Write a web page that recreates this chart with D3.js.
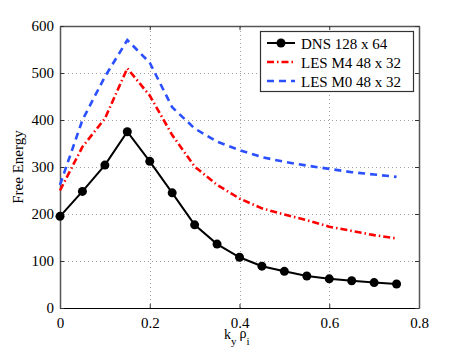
<!DOCTYPE html>
<html><head><meta charset="utf-8">
<script src="https://cdn.jsdelivr.net/npm/d3@7"></script>
<style>body{margin:0;background:#fff}svg{display:block}text{font-family:"Liberation Serif","Times New Roman",serif;fill:#000}</style>
</head><body>
<script>
const kValues = [0,0.05,0.1,0.15,0.2,0.25,0.3,0.35,0.4,0.45,0.5,0.55,0.6,0.65,0.7,0.75];
const dnsValues = [195,248,304,375,312,245,177,136,108,89,78,68,62,58,54,51];
const lesM4Values = [250,343,403,510,452,368,301,262,233,212,199,187,173,164,155,148];
const lesM0Values = [262,400,492,570,522,427,382,354,336,321,311,303,296,289,284,279];
const xTicks = [0,0.2,0.4,0.6,0.8];
const yTicks = [0,100,200,300,400,500,600];
const seriesNames = ["DNS 128 x 64","LES M4 48 x 32","LES M0 48 x 32"];

const SERIF='"Liberation Serif","Times New Roman",serif';
const W=463,H=349;
const svg=d3.select("body").append("svg").attr("width",W).attr("height",H)
  .attr("font-family",SERIF);
const x=d3.scaleLinear().domain([0,0.8]).range([60,419]);
const y=d3.scaleLinear().domain([0,600]).range([308,26]);

// grid
const grid=svg.append("g").attr("stroke","#a0a0a0").attr("stroke-width",1).attr("stroke-dasharray","1,3");
grid.selectAll(".gx").data(xTicks.slice(1,-1)).join("line")
 .attr("x1",d=>Math.round(x(d))+0.5).attr("x2",d=>Math.round(x(d))+0.5).attr("y1",y(0)).attr("y2",y(600));
grid.selectAll(".gy").data(yTicks.slice(1,-1)).join("line")
 .attr("y1",d=>Math.round(y(d))+0.5).attr("y2",d=>Math.round(y(d))+0.5).attr("x1",x(0)).attr("x2",x(0.8));

// axes via d3
const fmtX=d=>d===0?"0":String(d);
const xAxis=svg.append("g").attr("transform",`translate(0,${y(0)})`)
 .call(d3.axisBottom(x).tickValues(xTicks).tickFormat(fmtX).tickSizeInner(-4).tickSizeOuter(0).tickPadding(9));
const xAxisTop=svg.append("g").attr("transform",`translate(0,${y(600)})`)
 .call(d3.axisTop(x).tickValues(xTicks).tickFormat("").tickSizeInner(-4).tickSizeOuter(0));
const yAxis=svg.append("g").attr("transform",`translate(${x(0)},0)`)
 .call(d3.axisLeft(y).tickValues(yTicks).tickSizeInner(-4).tickSizeOuter(0).tickPadding(6));
const yAxisR=svg.append("g").attr("transform",`translate(${x(0.8)},0)`)
 .call(d3.axisRight(y).tickValues(yTicks).tickFormat("").tickSizeInner(-4).tickSizeOuter(0));
[xAxis,xAxisTop,yAxis,yAxisR].forEach(g=>{
  g.attr("font-family",SERIF).attr("font-size",15);
  g.selectAll("text").attr("font-family",SERIF).style("font-family",SERIF).style("font-size","15px").attr("fill","#000");
  g.selectAll("line").attr("stroke","#333");
});
xAxis.select(".domain").attr("stroke","#000").attr("stroke-width",1.2);
xAxisTop.select(".domain").attr("stroke","#555").attr("stroke-width",1.5);
yAxis.select(".domain").attr("stroke","#555").attr("stroke-width",1.5);
yAxisR.select(".domain").attr("stroke","#555").attr("stroke-width",1.5);

const line=d3.line().x((d,i)=>x(kValues[i])).y(d=>y(d));
svg.append("path").datum(lesM0Values).attr("d",line).attr("fill","none")
 .attr("stroke","#2b50ff").attr("stroke-width",2.6).attr("stroke-dasharray","7,5");
svg.append("path").datum(lesM4Values).attr("d",line).attr("fill","none")
 .attr("stroke","#ff0000").attr("stroke-width",2.6).attr("stroke-dasharray","7,3,1.5,3");
svg.append("path").datum(dnsValues).attr("d",line).attr("fill","none")
 .attr("stroke","#000").attr("stroke-width",2);
svg.selectAll(".mk").data(dnsValues).join("circle")
 .attr("cx",(d,i)=>x(kValues[i])).attr("cy",d=>y(d)).attr("r",4.5).attr("fill","#000");

// legend
const lg=svg.append("g");
lg.append("rect").attr("x",260.5).attr("y",31.5).attr("width",153).attr("height",60)
 .attr("fill","#fff").attr("stroke","#333").attr("stroke-width",1.2);
const styles=[{c:"#000",w:2,da:null,m:true},{c:"#ff0000",w:2.6,da:"7,3,1.5,3"},{c:"#2b50ff",w:2.6,da:"7,5"}];
seriesNames.forEach((n,i)=>{
  const yy=43+i*19;
  const s=styles[i];
  lg.append("line").attr("x1",267).attr("x2",295).attr("y1",yy).attr("y2",yy)
   .attr("stroke",s.c).attr("stroke-width",s.w).attr("stroke-dasharray",s.da);
  if(s.m) lg.append("circle").attr("cx",281).attr("cy",yy).attr("r",4.5).attr("fill","#000");
  lg.append("text").attr("x",301).attr("y",yy+5.5).style("font-size","15px").text(n);
});

// axis labels
svg.append("text").attr("transform",`translate(23,${(y(0)+y(600))/2}) rotate(-90)`)
 .attr("text-anchor","middle").style("font-size","15px").text("Free Energy");
const xl=svg.append("text").attr("x",224).attr("y",339).style("font-size","14px");
xl.append("tspan").text("k");
xl.append("tspan").attr("dy",6).style("font-size","11px").text("y");
xl.append("tspan").attr("dy",-7).attr("dx",3).text("ρ");
xl.append("tspan").attr("dy",7).style("font-size","11px").text("i");
</script>
</body></html>
